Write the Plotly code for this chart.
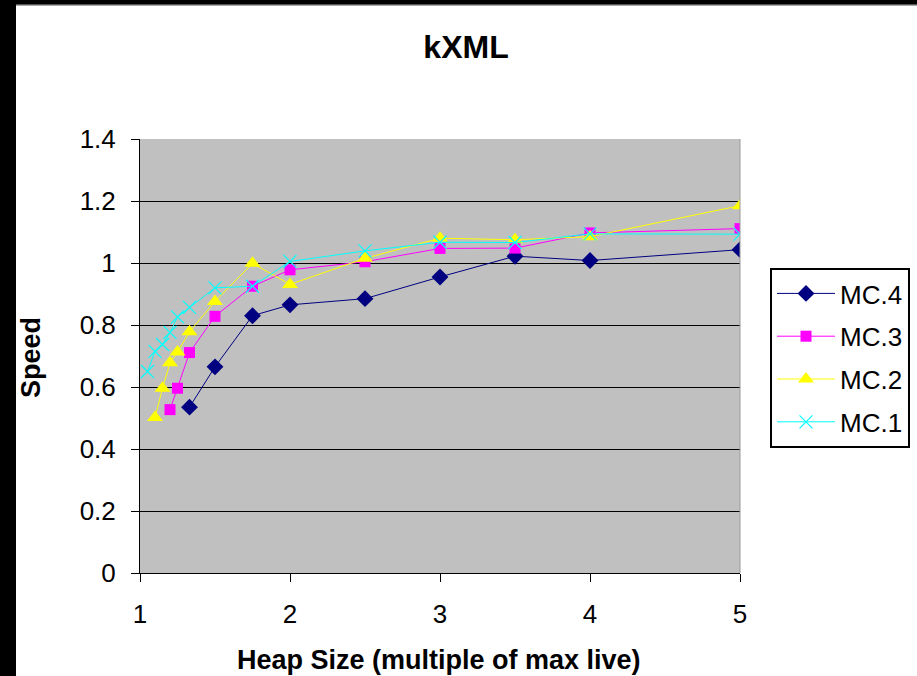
import plotly.graph_objects as go

# ---- data ----
series_names = ["MC.4", "MC.3", "MC.2", "MC.1"]

mc4_x = [1.33, 1.5, 1.75, 2, 2.5, 3, 3.5, 4, 5]
mc4_y = [0.535, 0.665, 0.83, 0.865, 0.885, 0.955, 1.022, 1.008, 1.043]

mc3_x = [1.2, 1.25, 1.33, 1.5, 1.75, 2, 2.5, 3, 3.5, 4, 5]
mc3_y = [0.527, 0.596, 0.711, 0.828, 0.925, 0.978, 1.004, 1.047, 1.048, 1.097, 1.111]

mc2_x = [1.1, 1.15, 1.2, 1.25, 1.33, 1.5, 1.75, 2, 2.5, 3, 3.5, 4, 5]
mc2_y = [0.502, 0.596, 0.678, 0.713, 0.778, 0.876, 0.999, 0.931, 1.015, 1.08, 1.075, 1.085, 1.185]

mc1_x = [1.05, 1.1, 1.15, 1.2, 1.25, 1.33, 1.5, 1.75, 2, 2.5, 3, 3.5, 4, 5]
mc1_y = [0.65, 0.715, 0.737, 0.776, 0.826, 0.857, 0.92, 0.925, 1.005, 1.039, 1.067, 1.066, 1.094, 1.093]

x_ticks = [1, 2, 3, 4, 5]
y_ticks = [0, 0.2, 0.4, 0.6, 0.8, 1, 1.2, 1.4]
y_tick_labels = ["0", "0.2", "0.4", "0.6", "0.8", "1", "1.2", "1.4"]

# ---- styles ----
FONT = "Liberation Sans, Arial, sans-serif"
W, H = 917, 676
L, R, T, B = 140, 177, 139, 103
PW, PH = W - L - R, H - T - B

styles = [
    dict(color="#000080", symbol="diamond", size=13, lcolor="#000080"),
    dict(color="#ff00ff", symbol="square", size=11, lcolor="#ff00ff"),
    dict(color="#ffff00", symbol="triangle-up", size=14, lcolor="#ffff00"),
    dict(color="#00ffff", symbol="x-thin-open", size=13, lcolor="#00ffff"),
]
data = [(mc4_x, mc4_y), (mc3_x, mc3_y), (mc2_x, mc2_y), (mc1_x, mc1_y)]

fig = go.Figure()
for name, (xs, ys), st in zip(series_names, data, styles):
    marker = dict(color=st["color"], symbol=st["symbol"], size=st["size"])
    if st["symbol"] == "x-thin-open":
        marker["line"] = dict(color=st["color"], width=1.2)
    else:
        marker["line"] = dict(width=0)
    fig.add_trace(go.Scatter(
        x=xs, y=ys, name=name, mode="lines+markers",
        line=dict(color=st["lcolor"], width=1),
        marker=marker, legendgroup=name,
    ))

def px_x(p):
    return (p - L) / PW

def px_y(p):
    return (H - B - p) / PH

shapes = [
    # right border of plot area
    dict(type="line", xref="paper", yref="paper", x0=1, x1=1, y0=0, y1=1,
         line=dict(color="#9a9a9a", width=1)),
    # black strip on the left
    dict(type="rect", xref="paper", yref="paper", x0=px_x(0), x1=px_x(16),
         y0=px_y(H), y1=px_y(0), fillcolor="#000000", line=dict(width=0), layer="above"),
    # black strip on top
    dict(type="rect", xref="paper", yref="paper", x0=px_x(0), x1=px_x(W),
         y0=px_y(4), y1=px_y(0), fillcolor="#000000", line=dict(width=0), layer="above"),
    dict(type="rect", xref="paper", yref="paper", x0=px_x(16), x1=px_x(W),
         y0=px_y(5.5), y1=px_y(4), fillcolor="#555555", line=dict(width=0), layer="above"),
]

fig.update_layout(
    width=W, height=H,
    margin=dict(l=L, r=R, t=T, b=B, autoexpand=False),
    paper_bgcolor="#ffffff", plot_bgcolor="#c0c0c0",
    font=dict(family=FONT, color="#000000", size=26),
    title=dict(text="<b>kXML</b>", x=px_x(466), xanchor="center", xref="paper",
               y=1 - 47 / H, yanchor="middle", yref="container",
               font=dict(family=FONT, size=32)),
    showlegend=True,
    legend=dict(x=px_x(770), y=px_y(268), xanchor="left", yanchor="top",
                bgcolor="#ffffff", bordercolor="#000000", borderwidth=2,
                font=dict(family=FONT, size=26), tracegroupgap=6,
                itemsizing="trace", itemwidth=58),
    shapes=shapes,
    annotations=[
        dict(text="<b>Speed</b>", xref="paper", yref="paper", x=px_x(31), y=px_y(358),
             xanchor="center", yanchor="middle", textangle=-90, showarrow=False,
             font=dict(family=FONT, size=27)),
        dict(text="<b>Heap Size (multiple of max live)</b>", xref="paper", yref="paper",
             x=px_x(439), y=px_y(660), xanchor="center", yanchor="middle",
             showarrow=False, font=dict(family=FONT, size=27)),
    ],
)

fig.update_xaxes(
    range=[1, 5], tickvals=x_ticks, ticktext=[str(v) for v in x_ticks],
    showgrid=False, zeroline=False, showline=True, linecolor="#000000", linewidth=1,
    ticks="outside", ticklen=8, tickcolor="#000000", tickwidth=1,
    ticklabelstandoff=10, tickfont=dict(family=FONT, size=26),
)
fig.update_yaxes(
    range=[0, 1.4], tickvals=y_ticks, ticktext=y_tick_labels,
    showgrid=True, gridcolor="#000000", gridwidth=1, zeroline=False,
    showline=True, linecolor="#000000", linewidth=1,
    ticks="outside", ticklen=8, tickcolor="#000000", tickwidth=1,
    ticklabelstandoff=10, tickfont=dict(family=FONT, size=26),
)

fig.write_html("out.html")
